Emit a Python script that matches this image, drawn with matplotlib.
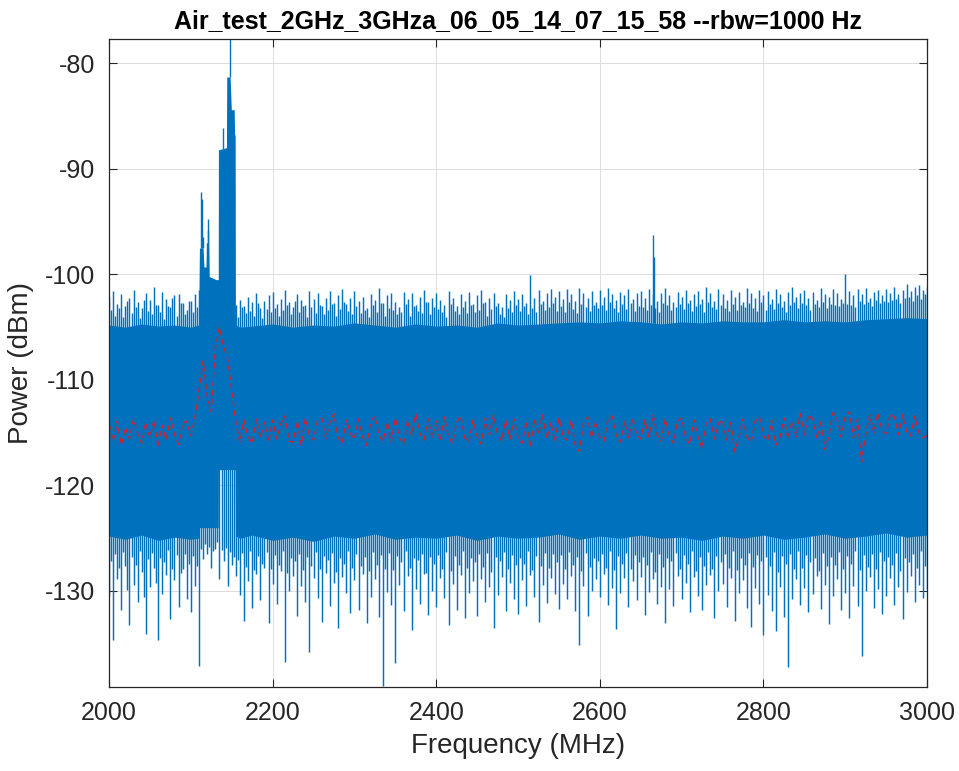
import numpy as np
import matplotlib
matplotlib.use('Agg')
import matplotlib.pyplot as plt

plt.rcParams['font.family'] = ['Liberation Sans', 'DejaVu Sans']
plt.rcParams['axes.unicode_minus'] = False

# spectrum trace (dBm)
# 2.5 MHz grid: tips of the noise spikes above / below the solid band
f_spk = np.arange(2000, 3000.1, 2.5)
spk_hi = [
    -102.1, -103.4, -101.6, -103.9, -102.8, -103.2, -101.9, -104.0, -103.0, -102.5, -102.2, -103.7, -101.5, -103.1, -102.6, -104.1, -103.2, -102.4, -101.8, -103.5,
    -102.4, -103.8, -101.2, -102.9, -102.9, -103.6, -101.7, -104.2, -102.3, -103.0, -103.1, -102.2, -102.0, -103.9, -101.9, -102.7, -102.7, -103.8, -103.4, -102.5,
    -102.5, -103.6, -101.9, -103.1, -101.5, -102.4, -102.0, -103.3, -101.8, -102.9, -102.3, -103.5, -101.4, -102.8, -102.0, -103.2, -101.6, -102.5, -102.2, -103.4,
    -101.9, -103.3, -102.9, -104.0, -102.4, -103.1, -103.0, -103.7, -102.1, -103.5, -102.6, -103.9, -101.8, -102.7, -103.2, -104.1, -102.5, -103.3, -102.0, -103.6,
    -101.7, -103.2, -102.8, -103.9, -102.3, -103.4, -101.5, -102.9, -102.6, -103.8, -103.1, -102.5, -101.9, -103.6, -102.4, -103.0, -102.9, -104.0, -101.6, -103.1,
    -102.3, -103.7, -101.8, -102.9, -103.0, -103.8, -102.2, -103.4, -101.6, -102.8, -102.7, -103.9, -102.0, -103.3, -101.4, -102.6, -102.8, -103.5, -102.2, -103.8,
    -101.6, -103.0, -102.5, -103.7, -102.1, -103.4, -103.2, -104.0, -101.9, -102.9, -102.4, -103.6, -101.3, -102.7, -102.7, -103.9, -102.0, -103.2, -101.8, -103.4,
    -102.6, -103.8, -103.1, -103.6, -101.7, -102.8, -102.3, -103.9, -101.8, -103.0, -102.9, -103.5, -102.1, -103.7, -101.5, -102.6, -102.6, -103.8, -102.2, -103.1,
    -101.8, -103.3, -102.4, -103.6, -102.9, -104.0, -101.6, -102.8, -102.2, -103.5, -103.0, -103.8, -101.9, -103.1, -102.5, -103.7, -101.7, -102.9, -102.8, -103.6,
    -102.0, -103.4, -101.5, -102.7, -102.6, -103.9, -102.2, -103.3, -101.8, -103.0, -102.7, -103.8, -103.1, -104.0, -101.9, -103.2, -102.4, -103.6, -101.6, -102.9,
    -102.3, -103.5, -101.9, -103.0, -102.7, -103.8, -100.1, -103.2, -102.2, -103.6, -101.5, -102.8, -102.5, -103.4, -101.8, -103.1, -101.4, -102.7, -102.1, -103.5,
    -101.6, -103.0, -102.3, -103.6, -101.4, -102.6, -101.9, -103.3, -102.5, -103.7, -101.3, -102.8, -101.8, -103.1, -102.2, -103.5, -101.6, -102.9, -102.6, -103.2,
    -101.5, -102.9, -102.1, -103.4, -101.3, -102.6, -101.9, -103.2, -102.4, -103.6, -101.7, -102.8, -102.0, -103.3, -101.4, -102.7, -102.3, -103.5, -101.8, -103.0,
    -101.6, -103.1, -102.2, -103.4, -101.4, -102.9, -101.9, -103.2, -102.5, -103.6, -101.8, -102.7, -101.3, -102.9, -102.0, -103.4, -102.6, -103.1, -101.7, -102.8,
    -102.1, -103.3, -101.5, -102.7, -102.4, -103.5, -101.9, -103.0, -101.6, -102.8, -102.3, -103.6, -101.2, -102.6, -101.8, -103.1, -102.5, -103.3, -101.4, -102.9,
    -101.9, -103.2, -102.4, -103.5, -101.5, -102.8, -102.1, -103.4, -101.7, -102.9, -102.6, -103.1, -101.3, -102.7, -101.8, -103.2, -102.2, -103.5, -101.5, -102.6,
    -102.0, -103.4, -101.6, -102.8, -102.3, -103.3, -101.4, -102.7, -101.9, -103.1, -102.5, -103.6, -101.7, -102.9, -101.2, -102.6, -102.1, -103.2, -101.8, -102.7,
    -101.5, -102.9, -102.2, -103.4, -101.7, -102.8, -102.4, -103.1, -101.3, -102.6, -101.9, -103.2, -102.1, -102.8, -101.4, -102.9, -101.8, -103.0, -102.3, -102.7,
    -100.0, -102.8, -101.6, -102.9, -102.0, -103.1, -101.4, -102.5, -101.9, -102.8, -101.3, -102.6, -102.2, -103.0, -101.7, -102.4, -101.5, -102.7, -102.0, -102.5,
    -101.4, -102.6, -101.8, -102.4, -101.2, -102.3, -101.9, -102.7, -101.5, -102.2, -100.9, -102.1, -101.6, -102.5, -101.2, -102.0, -101.0, -102.3, -101.5, -101.9,
    -101.3]
spk_lo = [
    -130.5, -127.2, -134.6, -126.5, -128.9, -127.8, -131.8, -126.3, -127.6, -129.9, -133.2, -126.8, -129.4, -127.5, -131.0, -126.2, -128.2, -130.6, -134.1, -127.0,
    -129.6, -126.4, -127.8, -129.2, -134.6, -126.9, -130.3, -127.3, -128.5, -126.1, -132.7, -127.9, -129.0, -126.6, -131.5, -128.3, -127.9, -126.5, -130.8, -127.4,
    -132.0, -126.7, -129.5, -127.6, -137.1, -126.0, -127.0, -125.5, -126.5, -125.8, -127.8, -126.2, -126.0, -125.4, -128.9, -126.1, -127.2, -125.9, -129.5, -126.3,
    -127.5, -126.8, -128.6, -127.1, -130.4, -126.4, -132.8, -127.7, -129.1, -126.2, -131.6, -128.0, -128.4, -126.7, -130.9, -127.4, -127.8, -126.3, -133.0, -127.9,
    -129.3, -126.6, -131.2, -127.5, -128.1, -126.2, -136.7, -128.3, -130.0, -126.9, -128.6, -127.2, -132.4, -126.5, -129.5, -128.0, -131.0, -126.8, -135.8, -127.6,
    -128.8, -126.3, -130.7, -127.9, -132.9, -126.7, -128.3, -127.1, -131.4, -126.4, -129.2, -128.2, -133.5, -126.9, -128.7, -127.4, -130.2, -126.2, -132.1, -127.8,
    -129.0, -126.5, -131.8, -127.6, -128.4, -126.8, -133.0, -128.1, -130.6, -126.3, -128.9, -127.5, -132.5, -126.6, -139.0, -127.9, -130.1, -126.4, -131.3, -128.0,
    -136.8, -126.7, -129.4, -127.3, -131.9, -126.2, -128.6, -127.8, -133.7, -126.9, -129.8, -127.1, -131.2, -126.5, -128.4, -128.3, -132.3, -126.8, -130.0, -127.4,
    -131.5, -126.6, -128.8, -127.9, -130.7, -126.3, -133.2, -128.1, -129.3, -126.7, -131.8, -127.5, -128.5, -126.2, -132.6, -127.8, -130.2, -126.9, -129.1, -127.3,
    -132.4, -126.5, -128.9, -127.7, -131.0, -126.4, -129.6, -128.2, -133.5, -126.8, -130.4, -127.2, -128.7, -126.3, -131.9, -127.9, -129.2, -126.6, -130.8, -127.5,
    -132.2, -126.9, -129.0, -127.4, -131.4, -126.2, -128.5, -128.0, -130.6, -126.7, -132.9, -127.6, -129.4, -126.4, -131.1, -127.8, -128.8, -126.5, -130.3, -127.3,
    -131.7, -126.6, -129.3, -127.9, -130.8, -126.3, -128.6, -127.5, -131.9, -126.8, -135.1, -128.1, -129.5, -126.4, -132.4, -127.7, -130.0, -126.9, -128.9, -127.2,
    -130.6, -126.5, -128.4, -127.8, -131.3, -126.2, -129.7, -128.0, -133.6, -126.7, -130.2, -127.4, -128.8, -126.4, -131.5, -127.9, -129.1, -126.6, -130.9, -127.3,
    -128.7, -126.8, -132.3, -127.5, -130.1, -126.3, -128.9, -128.2, -131.2, -126.5, -129.6, -127.7, -133.0, -126.9, -129.8, -127.2, -131.4, -126.4, -128.6, -127.9,
    -130.8, -126.6, -129.2, -127.4, -132.0, -126.2, -128.7, -128.1, -130.5, -126.8, -131.8, -127.6, -129.4, -126.3, -128.5, -127.9, -132.6, -126.7, -130.0, -127.3,
    -129.3, -126.5, -131.5, -127.8, -128.8, -126.2, -132.8, -128.0, -130.2, -126.9, -129.0, -127.5, -131.6, -126.4, -133.4, -127.7, -129.7, -126.6, -131.2, -127.2,
    -134.2, -126.8, -130.4, -127.6, -131.9, -126.3, -133.8, -128.2, -129.6, -126.7, -132.5, -127.4, -137.2, -126.5, -130.8, -127.9, -128.9, -126.2, -131.3, -127.8,
    -129.7, -126.6, -132.0, -127.3, -130.3, -126.9, -128.6, -128.1, -131.7, -126.4, -129.4, -127.6, -133.1, -126.8, -130.5, -127.5, -128.9, -126.3, -131.8, -127.9,
    -130.2, -126.7, -132.6, -127.4, -129.5, -126.2, -131.4, -128.0, -136.2, -126.6, -130.0, -127.7, -128.7, -126.5, -131.6, -127.9, -129.8, -126.3, -132.2, -127.2,
    -130.5, -126.8, -128.8, -127.5, -131.3, -126.4, -129.6, -128.1, -132.7, -126.9, -130.1, -127.3, -128.6, -126.5, -131.0, -127.8, -129.4, -126.2, -130.7, -127.6,
    -129.8]

# solid part of the band
core_f = [2000, 2020, 2040, 2060, 2080, 2100, 2109.5, 2110.5, 2115, 2116, 2118.5,
          2119, 2122, 2122.5, 2131, 2133.5, 2133.7, 2143.5, 2143.9, 2148, 2149.5,
          2153, 2153.5, 2154.2, 2154.5, 2160, 2175, 2200, 2225, 2250, 2275, 2300,
          2325, 2350, 2375, 2400, 2425, 2450, 2475, 2500, 2525, 2550, 2575, 2600,
          2625, 2650, 2675, 2700, 2725, 2750, 2775, 2800, 2825, 2850, 2875, 2900,
          2925, 2950, 2975, 3000]
core_hi = [-104.8, -105.0, -104.7, -104.9, -104.8, -105.0, -104.8, -97.5, -97.5,
           -99.3, -99.3, -97.0, -97.0, -100.2, -100.5, -100.5, -88.2, -88.0, -81.3,
           -81.3, -84.4, -84.4, -86.8, -86.8, -104.8, -105.0, -104.9, -104.7, -105.0,
           -104.8, -104.9, -104.6, -104.8, -105.0, -104.7, -104.9, -104.8, -105.0,
           -104.6, -104.8, -104.7, -104.6, -104.5, -104.6, -104.4, -104.5, -104.7,
           -104.5, -104.6, -104.4, -104.5, -104.5, -104.3, -104.5, -104.4, -104.5,
           -104.3, -104.2, -104.1, -104.2]
core_lo = [-124.8, -125.1, -124.7, -125.2, -124.9, -125.1, -125.0, -124.0, -124.0,
           -124.0, -124.0, -124.0, -124.0, -124.0, -124.0, -124.0, -118.5, -118.5,
           -118.5, -118.5, -118.5, -118.5, -118.5, -118.5, -124.8, -125.0, -124.7,
           -125.2, -124.9, -125.3, -124.8, -125.0, -124.6, -125.1, -124.9, -125.0,
           -124.7, -125.2, -124.8, -125.0, -124.9, -124.6, -125.1, -124.8, -125.0,
           -124.7, -125.0, -124.9, -125.2, -124.8, -125.0, -124.7, -125.1, -124.9,
           -124.6, -125.0, -124.8, -124.5, -124.9, -124.7]

# interferers
peak_f = [2112.5, 2113.5, 2114.5, 2120.5, 2121.5, 2139.8, 2147.9, 2152.5, 2664.6, 2666.2]
peak_db = [-92.2, -92.9, -96.5, -94.8, -95.8, -86.1, -77.5, -84.4, -96.3, -98.4]

# average trace (red dashed), 5 MHz grid
f_avg = np.arange(2000, 3001, 5)
avg_db = [
    -114.2, -115.8, -113.9, -116.2, -114.5, -115.6, -113.7, -115.1, -116.0, -114.0,
    -115.5, -113.8, -116.4, -114.3, -115.7, -113.6, -115.2, -116.1, -114.1, -113.9,
    -115.3, -113.6, -111.0, -108.2, -111.5, -113.0, -107.0, -105.0, -106.8, -108.0,
    -111.0, -114.0, -115.9, -113.8, -115.4, -116.0, -113.7, -115.5, -114.0, -115.9,
    -113.8, -115.6, -114.2, -113.4, -115.8, -115.9, -113.9, -116.2, -113.6, -115.3,
    -115.7, -113.8, -113.6, -115.6, -114.0, -113.2, -115.5, -116.0, -113.8, -115.1,
    -115.6, -113.7, -115.4, -116.2, -113.9, -113.4, -115.3, -115.8, -114.0, -115.9,
    -113.6, -115.5, -116.1, -113.8, -115.3, -113.2, -115.1, -115.7, -113.7, -115.5,
    -113.9, -115.8, -113.5, -115.4, -116.0, -114.0, -113.4, -115.5, -115.9, -113.8,
    -115.3, -116.1, -113.6, -115.2, -113.3, -115.1, -115.8, -113.8, -115.6, -113.7,
    -115.5, -116.0, -113.9, -116.4, -113.7, -115.2, -113.3, -115.6, -114.0, -115.9,
    -113.6, -115.4, -115.7, -113.8, -116.2, -116.8, -114.1, -113.5, -115.5, -113.9,
    -115.4, -115.8, -113.7, -113.4, -115.3, -115.9, -113.9, -115.5, -113.6, -115.2,
    -115.6, -113.8, -115.4, -113.3, -115.2, -115.8, -113.7, -115.3, -116.0, -113.9,
    -113.6, -115.5, -116.1, -113.8, -115.4, -116.5, -114.0, -113.7, -115.6, -114.1,
    -113.8, -115.7, -114.0, -116.8, -115.5, -113.7, -115.4, -115.9, -113.9, -113.5,
    -115.3, -115.8, -113.8, -116.2, -115.5, -113.6, -115.6, -113.9, -115.4, -113.2,
    -115.2, -113.3, -113.7, -115.6, -113.8, -116.6, -115.3, -113.1, -113.6, -115.4,
    -113.5, -113.0, -115.5, -113.7, -117.8, -115.1, -113.3, -115.0, -113.1, -114.8,
    -115.1, -113.2, -113.5, -115.2, -113.3, -114.9, -115.3, -113.4, -115.0, -115.5,
    -115.2]

blue = '#0072BD'
ink = '#262626'

fig = plt.figure(figsize=(9.59, 7.71), dpi=100)
ax = fig.add_axes([0.1137, 0.1089, 0.8530, 0.8405])

ax.fill_between(core_f, core_lo, core_hi, color=blue, lw=0)
ax.vlines(f_spk, spk_lo, spk_hi, color=blue, lw=1.05)
ax.vlines(peak_f, np.interp(peak_f, core_f, core_hi), peak_db, color=blue, lw=1.0)
ax.plot(f_avg, avg_db, '--', color='#d0202e', lw=1.0, dashes=(4, 2.5))

ax.set_xlim(2000, 3000)
ax.set_ylim(-139.1, -77.7)
ax.set_xticks(np.arange(2000, 3001, 200))
ax.set_yticks(np.arange(-130, -79, 10))
ax.grid(True, color='#dcdcdc', lw=0.7)
ax.set_axisbelow(True)
ax.tick_params(direction='in', top=True, right=True, length=6, width=0.8,
               colors=ink, labelsize=18, pad=10)
for s in ax.spines.values():
    s.set_color(ink)
    s.set_linewidth(0.9)

ax.set_xlabel('Frequency (MHz)', fontsize=20, color=ink, labelpad=6)
ax.set_ylabel('Power (dBm)', fontsize=20, color=ink, labelpad=8)
ax.set_title('Air_test_2GHz_3GHza_06_05_14_07_15_58 --rbw=1000 Hz',
             fontsize=18, fontweight='bold', color='black', pad=8)

fig.savefig('out.png', dpi=100)
